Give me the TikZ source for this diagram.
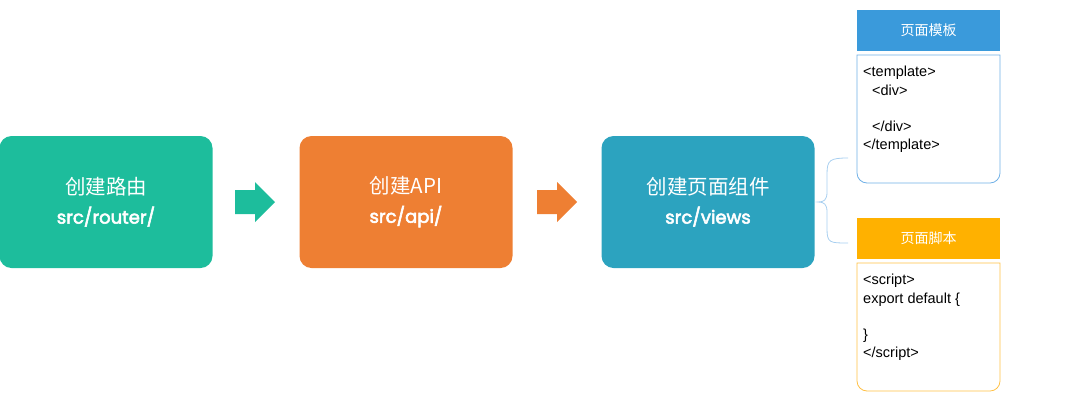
\documentclass[tikz,border=0pt]{standalone}
\usepackage{fontspec}
\setmainfont{Liberation Sans}
\newfontfamily\cjkfont{Noto Sans CJK SC}
\newfontfamily\pathfont{Poppins}[FakeBold=3]
\definecolor{routegreen}{HTML}{1DBD9C}
\definecolor{apiorange}{HTML}{EE7F33}
\definecolor{viewteal}{HTML}{2CA3BF}
\definecolor{tplblue}{HTML}{3A9ADB}
\definecolor{tplline}{HTML}{6FB0E6}
\definecolor{scriptgold}{HTML}{FFB100}
\definecolor{scriptline}{HTML}{FFC044}
\definecolor{braceblue}{HTML}{A8CFF0}
\begin{document}
\begin{tikzpicture}[x=1pt, y=1pt,
    flowbox/.style={rounded corners=12pt, minimum width=213pt, minimum height=132pt,
      inner sep=0pt, text=white, align=center, font=\fontsize{20.5}{29}\selectfont},
    tagbar/.style={minimum width=143pt, minimum height=41pt, inner sep=0pt,
      text=white, font=\cjkfont\fontsize{14}{16}\selectfont},
    codetext/.style={anchor=north west, inner sep=0pt, align=left,
      font=\fontsize{14.5}{18.3}\selectfont}]
  \useasboundingbox (0,0) rectangle (1067,-416);

  % three steps
  \node[flowbox, fill=routegreen] (router) at (106,-202)
    {{\cjkfont 创建路由}\\{\pathfont\fontsize{18}{29}\selectfont src/router/}};
  \node[flowbox, fill=apiorange] (api) at (406,-202)
    {{\cjkfont 创建API}\\{\pathfont\fontsize{18}{29}\selectfont src/api/}};
  \node[flowbox, fill=viewteal] (views) at (708,-202)
    {{\cjkfont 创建页面组件}\\{\pathfont\fontsize{18}{29}\selectfont src/views}};

  % block arrows between the steps
  \fill[routegreen] (235,-190) -- (255,-190) -- (255,-182) -- (275,-202)
    -- (255,-222) -- (255,-214) -- (235,-214) -- cycle;
  \fill[apiorange] (537,-190) -- (557,-190) -- (557,-182) -- (577,-202)
    -- (557,-222) -- (557,-214) -- (537,-214) -- cycle;

  % brace to the two parts
  \draw[braceblue, thick] (848,-158) .. controls (830,-158) and (827,-160) .. (827,-174)
    -- (827,-192) .. controls (827,-200) and (824,-202) .. (818,-202)
    .. controls (824,-202) and (827,-204) .. (827,-212)
    -- (827,-229) .. controls (827,-243) and (830,-243) .. (848,-243);

  % page template
  \node[tagbar, fill=tplblue] (tplhead) at (928.5,-30) {页面模板};
  \draw[tplline, thick] (857,-55) -- (1000,-55) -- (1000,-173) arc(0:-90:10)
    -- (867,-183) arc(270:180:10) -- cycle;
  \node[codetext] (tplcode) at (863,-66)
    {<template>\\\hspace*{9pt}<div>\\[18.3pt]\hspace*{9pt}</div>\\</template>};

  % page script
  \node[tagbar, fill=scriptgold] (scripthead) at (928.5,-238.5) {页面脚本};
  \draw[scriptline, thick] (857,-263) -- (1000,-263) -- (1000,-381) arc(0:-90:10)
    -- (867,-391) arc(270:180:10) -- cycle;
  \node[codetext] (scriptcode) at (863,-274)
    {<script>\\export default \{\\[18.3pt]\}\\</script>};
\end{tikzpicture}
\end{document}
